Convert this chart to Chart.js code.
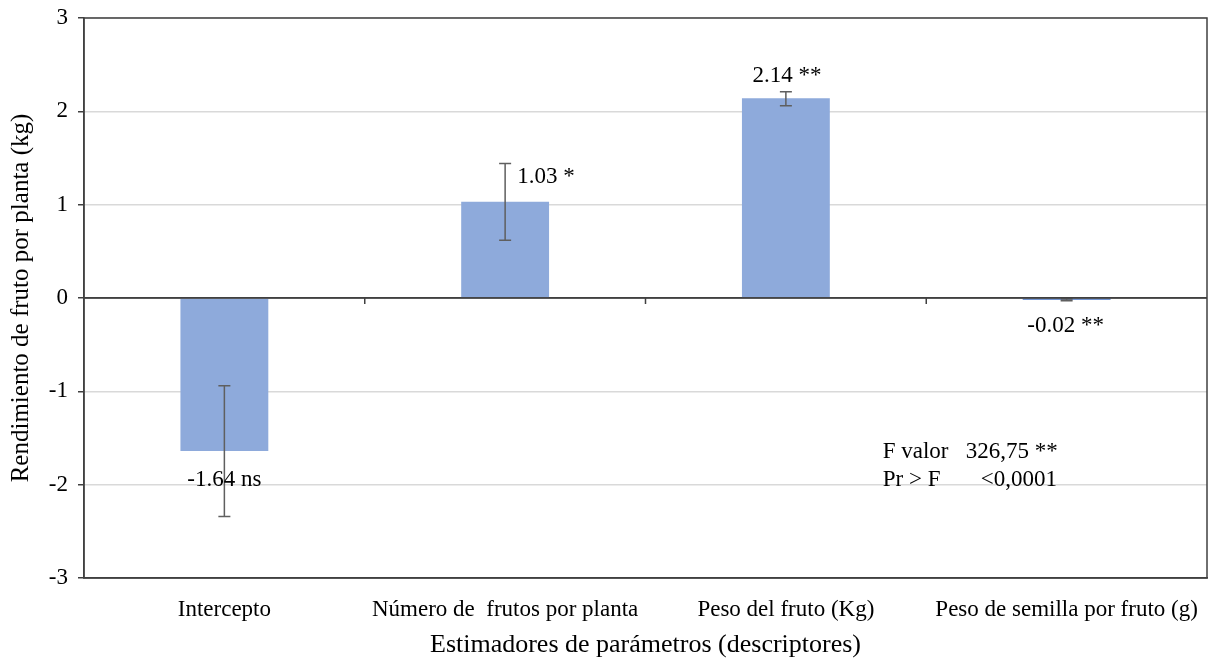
<!DOCTYPE html>
<html>
<head>
<meta charset="utf-8">
<script src="https://cdn.jsdelivr.net/npm/chart.js@4.4.0/dist/chart.umd.min.js"></script>
<style>
  html, body { margin: 0; padding: 0; background: #fff; }
  #wrap { width: 1215px; height: 661px; }
</style>
</head>
<body>
<div id="wrap"><canvas id="barChart" width="1215" height="661"></canvas></div>
<script>
// data
var categories = ['Intercepto', 'Número de  frutos por planta', 'Peso del fruto (Kg)', 'Peso de semilla por fruto (g)'];
var estimates = [-1.64, 1.03, 2.14, -0.02];
var errLow = [-2.34, 0.62, 2.06, -0.03];
var errHigh = [-0.94, 1.44, 2.21, -0.01];
var valueLabels = ['-1.64 ns', '1.03 *', '2.14 **', '-0.02 **'];
var yTicks = [-3, -2, -1, 0, 1, 2, 3];
var statsLines = ['F valor   326,75 **', 'Pr > F       <0,0001'];

var serif = "'Liberation Serif', 'Times New Roman', serif";

//error bars, value labels, frame and zero-line ticks
var extrasPlugin = {
    id: 'extras',
    afterDatasetsDraw: function (chart) {
        var ctx = chart.ctx;
        var x = chart.scales.x;
        var y = chart.scales.y;
        var area = chart.chartArea;

        // error bars
        ctx.save();
        ctx.strokeStyle = '#5f5f5f';
        ctx.lineWidth = 1.5;
        estimates.forEach(function (v, i) {
            var cx = x.getPixelForValue(i);
            var yl = y.getPixelForValue(errLow[i]);
            var yh = y.getPixelForValue(errHigh[i]);
            ctx.beginPath();
            ctx.moveTo(cx, yl); ctx.lineTo(cx, yh);
            ctx.moveTo(cx - 6, yl); ctx.lineTo(cx + 6, yl);
            ctx.moveTo(cx - 6, yh); ctx.lineTo(cx + 6, yh);
            ctx.stroke();
        });
        ctx.restore();

        // zero line + ticks at category boundaries
        var y0 = y.getPixelForValue(0);
        ctx.save();
        ctx.strokeStyle = '#404040';
        ctx.lineWidth = 1.5;
        ctx.beginPath();
        ctx.moveTo(area.left, y0); ctx.lineTo(area.right, y0);
        for (var i = 0; i < categories.length - 1; i++) {
            var bx = (x.getPixelForValue(i) + x.getPixelForValue(i + 1)) / 2;
            ctx.moveTo(bx, y0); ctx.lineTo(bx, y0 + 6);
        }
        ctx.stroke();
        // frame
        ctx.strokeRect(area.left, area.top, area.right - area.left, area.bottom - area.top);
        ctx.restore();

        // value labels
        ctx.save();
        ctx.fillStyle = '#000';
        ctx.font = '23px ' + serif;
        ctx.textBaseline = 'middle';
        ctx.textAlign = 'center';
        ctx.fillText(valueLabels[0], x.getPixelForValue(0), y.getPixelForValue(-1.95));
        ctx.textAlign = 'left';
        ctx.fillText(valueLabels[1], x.getPixelForValue(1) + 12, y.getPixelForValue(1.3));
        ctx.textAlign = 'center';
        ctx.fillText(valueLabels[2], x.getPixelForValue(2) + 1, y.getPixelForValue(2.38));
        ctx.fillText(valueLabels[3], x.getPixelForValue(3) - 1, y.getPixelForValue(-0.3));

        // stats text
        ctx.textAlign = 'left';
        var sx = x.getPixelForValue(2.345);
        ctx.fillText(statsLines[0], sx, y.getPixelForValue(-1.65));
        ctx.fillText(statsLines[1], sx, y.getPixelForValue(-1.95));
        ctx.restore();
    }
};

var barContext = document.getElementById('barChart').getContext('2d');

var barData = {
    labels: categories,
    datasets: [{
        data: estimates,
        backgroundColor: ['#8eaadb', '#8eaadb', '#8eaadb', '#4472c4'],
        categoryPercentage: 1,
        barPercentage: 0.313
    }]
};

var barOptions = {
    responsive: false,
    animation: false,
    layout: { padding: { top: 18, right: 8, left: 6, bottom: 0 } },
    plugins: {
        legend: { display: false },
        tooltip: { enabled: false }
    },
    scales: {
        x: {
            grid: { display: false },
            border: { display: true, color: '#404040', width: 1.5 },
            ticks: {
                color: '#000',
                font: { family: serif, size: 23 },
                padding: 10,
                maxRotation: 0
            },
            title: {
                display: true,
                text: 'Estimadores de parámetros (descriptores)',
                color: '#000',
                font: { family: serif, size: 26 },
                padding: { top: 1, bottom: 0 }
            },
            afterFit: function (scale) { scale.height = 83; }
        },
        y: {
            min: -3,
            max: 3,
            afterBuildTicks: function (scale) {
                scale.ticks = yTicks.map(function (v) { return { value: v }; });
            },
            grid: {
                color: function (c) {
                    return c.tick.value === 0 ? '#404040' : '#d9d9d9';
                },
                lineWidth: 1.5,
                tickLength: 6,
                tickColor: '#404040'
            },
            border: { display: true, color: '#404040', width: 1.5 },
            ticks: {
                color: '#000',
                font: { family: serif, size: 23, lineHeight: 0.8 },
                padding: 10
            },
            title: {
                display: true,
                text: 'Rendimiento de fruto por planta (kg)',
                color: '#000',
                font: { family: serif, size: 25 },
                padding: { top: 0, bottom: 4 }
            },
            afterFit: function (scale) {
                scale.width = 78;
                scale.paddingTop = 0;
                scale.paddingBottom = 0;
            }
        }
    }
};

var barChart = new Chart(barContext, {
    type: 'bar',
    data: barData,
    options: barOptions,
    plugins: [extrasPlugin]
});
</script>
</body>
</html>
